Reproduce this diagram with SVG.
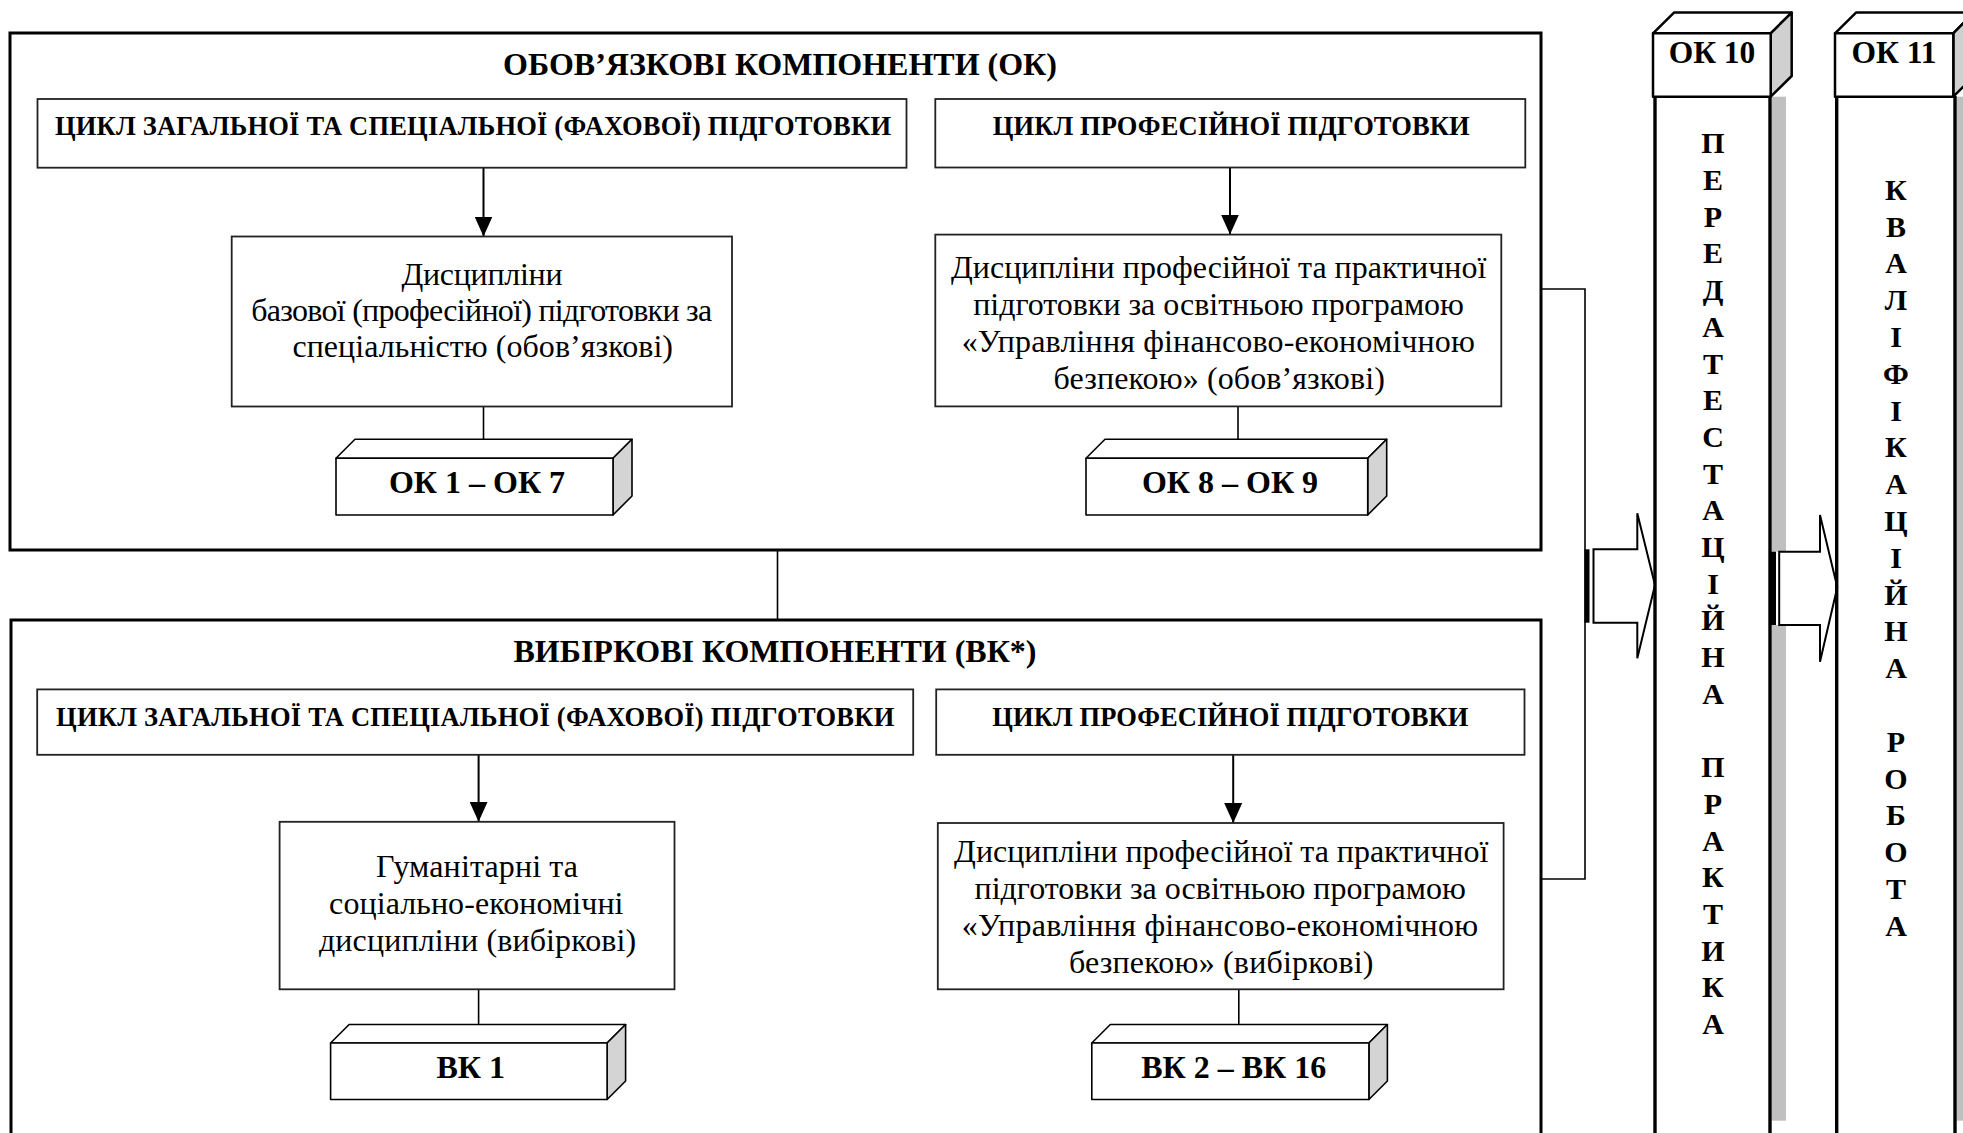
<svg xmlns="http://www.w3.org/2000/svg" width="1963" height="1133" viewBox="0 0 1963 1133">
<style>
text{font-family:"Liberation Serif","Times New Roman",serif;fill:#000}
.title{font-size:32px;font-weight:bold;text-anchor:middle}
.cyc{font-size:26.5px;font-weight:bold;text-anchor:middle}
.disc{font-size:32px;text-anchor:middle}
.lbl{font-size:32px;font-weight:bold;text-anchor:middle}
.hdr{font-size:31.5px;font-weight:bold;text-anchor:middle}
.let{font-size:30px;font-weight:bold;text-anchor:middle}
.outer{fill:none;stroke:#000;stroke-width:3}
.box{fill:#fff;stroke:#222;stroke-width:1.8}
.face{fill:#fff;stroke:#000;stroke-width:1.6;stroke-linejoin:round}
.side{fill:#d4d4d4;stroke:#000;stroke-width:1.6;stroke-linejoin:round}
.hface{fill:#fff;stroke:#000;stroke-width:2.5;stroke-linejoin:round}
.hside{fill:#d0d0d0;stroke:#000;stroke-width:2.5;stroke-linejoin:round}
.col{fill:none;stroke:#000;stroke-width:3.4}
.shadow{fill:#c0c0c0}
.ln{fill:none;stroke:#000;stroke-width:1.6}
.arr{fill:none;stroke:#000;stroke-width:2}
.barrow{fill:#fff;stroke:#000;stroke-width:2;stroke-linejoin:miter}
</style>
<defs>
<marker id="ah" viewBox="0 0 20 18" refX="20" refY="9" markerWidth="20" markerHeight="18" markerUnits="userSpaceOnUse" orient="auto">
<path d="M0,0 L20,9 L0,18 Z" fill="#000"/>
</marker>
</defs>
<rect width="1963" height="1133" fill="#fff"/>

<!-- shadows of vertical columns -->
<rect class="shadow" x="1771.7" y="96.7" width="14.3" height="1024"/>
<rect class="shadow" x="1956.5" y="96.7" width="14.3" height="1024"/>

<g id="connectors">
<line class="arr" x1="483.5" y1="168" x2="483.5" y2="236.5" marker-end="url(#ah)"/>
<line class="arr" x1="1230" y1="168" x2="1230" y2="234.6" marker-end="url(#ah)"/>
<line class="arr" x1="478.6" y1="755" x2="478.6" y2="821.8" marker-end="url(#ah)"/>
<line class="arr" x1="1233.2" y1="755" x2="1233.2" y2="823" marker-end="url(#ah)"/>
<line class="ln" x1="483.5" y1="406.5" x2="483.5" y2="439.3"/>
<line class="ln" x1="1238" y1="406.4" x2="1238" y2="439.3"/>
<line class="ln" x1="478.6" y1="989.3" x2="478.6" y2="1024.5"/>
<line class="ln" x1="1238.8" y1="989.3" x2="1238.8" y2="1024.5"/>
<line class="ln" x1="777.5" y1="550" x2="777.5" y2="620"/>
<polyline class="ln" points="1541,289 1585,289 1585,879 1541,879"/>
<!-- block arrow 1 -->
<path class="barrow" d="M1593.5,549.3 H1637.3 V513.3 L1655,585 L1637.3,658.3 V622.7 H1593.5 Z"/>
<rect x="1584.5" y="549.3" width="5" height="73.4" fill="#000"/>
<!-- block arrow 2 -->
<rect x="1772" y="551.7" width="14" height="73.3" fill="#fff"/>
<path class="barrow" d="M1779.2,551.7 H1820 V515 L1837.3,587.3 L1820,661.7 V625 H1779.2 Z"/>
<rect x="1771" y="551.7" width="5" height="73.3" fill="#000"/>
</g>

<g id="ok-block">
<rect class="outer" x="10" y="33" width="1531" height="517"/>
<text class="title" x="780" y="75">ОБОВ’ЯЗКОВІ КОМПОНЕНТИ (ОК)</text>
</g>
<g id="ok-cycle-general">
<rect class="box" x="37.5" y="99" width="869" height="68.7"/>
<text class="cyc" x="473" y="135" textLength="836">ЦИКЛ ЗАГАЛЬНОЇ ТА СПЕЦІАЛЬНОЇ (ФАХОВОЇ) ПІДГОТОВКИ</text>
</g>
<g id="ok-cycle-prof">
<rect class="box" x="935.3" y="99" width="590" height="68.5"/>
<text class="cyc" x="1231.2" y="135" textLength="477">ЦИКЛ ПРОФЕСІЙНОЇ ПІДГОТОВКИ</text>
</g>
<g id="ok-disc-base">
<rect class="box" x="231.7" y="236.5" width="500.3" height="170"/>
<text class="disc" x="482" y="285" textLength="161">Дисципліни</text>
<text class="disc" x="481.7" y="321" textLength="461">базової (професійної) підготовки за</text>
<text class="disc" x="482.7" y="357" textLength="380.6">спеціальністю (обов’язкові)</text>
</g>
<g id="ok-disc-prof">
<rect class="box" x="935.3" y="234.6" width="566" height="171.8"/>
<text class="disc" x="1218.7" y="278" textLength="535.4">Дисципліни професійної та практичної</text>
<text class="disc" x="1218.6" y="315" textLength="490.8">підготовки за освітньою програмою</text>
<text class="disc" x="1218.3" y="352" textLength="513.2">«Управління фінансово-економічною</text>
<text class="disc" x="1219.2" y="389" textLength="331.2">безпекою» (обов’язкові)</text>
</g>
<g id="ok-1-7">
<polygon class="face" points="336,458.3 355,439.3 632,439.3 613,458.3"/>
<polygon class="side" points="613,458.3 632,439.3 632,496 613,515"/>
<rect class="face" x="336" y="458.3" width="277" height="56.7"/>
<text class="lbl" x="477" y="493.3">ОК 1 – ОК 7</text>
</g>
<g id="ok-8-9">
<polygon class="face" points="1086,458.3 1105,439.3 1386.7,439.3 1367.7,458.3"/>
<polygon class="side" points="1367.7,458.3 1386.7,439.3 1386.7,496 1367.7,515"/>
<rect class="face" x="1086" y="458.3" width="281.7" height="56.7"/>
<text class="lbl" x="1230" y="493.3">ОК 8 – ОК 9</text>
</g>

<g id="vk-block">
<rect class="outer" x="11" y="620" width="1530" height="530"/>
<text class="title" x="775" y="662">ВИБІРКОВІ КОМПОНЕНТИ (ВК*)</text>
</g>
<g id="vk-cycle-general">
<rect class="box" x="37.2" y="689.4" width="876" height="65.4"/>
<text class="cyc" x="475.2" y="726" textLength="838.3">ЦИКЛ ЗАГАЛЬНОЇ ТА СПЕЦІАЛЬНОЇ (ФАХОВОЇ) ПІДГОТОВКИ</text>
</g>
<g id="vk-cycle-prof">
<rect class="box" x="936.2" y="689.4" width="588.3" height="65.4"/>
<text class="cyc" x="1230.4" y="726" textLength="476.1">ЦИКЛ ПРОФЕСІЙНОЇ ПІДГОТОВКИ</text>
</g>
<g id="vk-disc-hum">
<rect class="box" x="279.6" y="821.8" width="394.9" height="167.5"/>
<text class="disc" x="477" y="877" textLength="202">Гуманітарні та</text>
<text class="disc" x="476.3" y="914" textLength="294.4">соціально-економічні</text>
<text class="disc" x="477.6" y="951" textLength="317.3">дисципліни (вибіркові)</text>
</g>
<g id="vk-disc-prof">
<rect class="box" x="937.8" y="823" width="565.8" height="166.3"/>
<text class="disc" x="1221.2" y="862" textLength="534.2">Дисципліни професійної та практичної</text>
<text class="disc" x="1220.2" y="899" textLength="491.3">підготовки за освітньою програмою</text>
<text class="disc" x="1219.9" y="936" textLength="516.3">«Управління фінансово-економічною</text>
<text class="disc" x="1221.2" y="973" textLength="304.6">безпекою» (вибіркові)</text>
</g>
<g id="vk-1">
<polygon class="face" points="330.6,1043 349.1,1024.5 625.6,1024.5 607.1,1043"/>
<polygon class="side" points="607.1,1043 625.6,1024.5 625.6,1081 607.1,1099.5"/>
<rect class="face" x="330.6" y="1043" width="276.5" height="56.5"/>
<text class="lbl" x="470.7" y="1078">ВК 1</text>
</g>
<g id="vk-2-16">
<polygon class="face" points="1091.8,1043 1110.3,1024.5 1387.4,1024.5 1368.9,1043"/>
<polygon class="side" points="1368.9,1043 1387.4,1024.5 1387.4,1081 1368.9,1099.5"/>
<rect class="face" x="1091.8" y="1043" width="277.1" height="56.5"/>
<text class="lbl" x="1233.7" y="1078">ВК 2 – ВК 16</text>
</g>

<g id="ok10">
<line class="col" x1="1655" y1="96" x2="1655" y2="1140"/>
<line class="col" x1="1770" y1="96" x2="1770" y2="1140"/>
<polygon class="hface" points="1653,33.3 1674,12.6 1791.7,12.6 1770.7,33.3"/>
<polygon class="hside" points="1770.7,33.3 1791.7,12.6 1791.7,76 1770.7,96.7"/>
<rect class="hface" x="1653" y="33.3" width="117.7" height="63.4"/>
<text class="hdr" x="1712" y="63.3">ОК 10</text>
<text class="let" x="1713">
<tspan x="1713" y="153.3">П</tspan><tspan x="1713" y="190">Е</tspan><tspan x="1713" y="226.7">Р</tspan><tspan x="1713" y="263.4">Е</tspan><tspan x="1713" y="300.1">Д</tspan><tspan x="1713" y="336.8">А</tspan><tspan x="1713" y="373.5">Т</tspan><tspan x="1713" y="410.2">Е</tspan><tspan x="1713" y="446.9">С</tspan><tspan x="1713" y="483.6">Т</tspan><tspan x="1713" y="520.3">А</tspan><tspan x="1713" y="557">Ц</tspan><tspan x="1713" y="593.7">І</tspan><tspan x="1713" y="630.4">Й</tspan><tspan x="1713" y="667.1">Н</tspan><tspan x="1713" y="703.8">А</tspan><tspan x="1713" y="777.2">П</tspan><tspan x="1713" y="813.9">Р</tspan><tspan x="1713" y="850.6">А</tspan><tspan x="1713" y="887.3">К</tspan><tspan x="1713" y="924">Т</tspan><tspan x="1713" y="960.7">И</tspan><tspan x="1713" y="997.4">К</tspan><tspan x="1713" y="1034.1">А</tspan>
</text>
</g>

<g id="ok11">
<line class="col" x1="1836.7" y1="96" x2="1836.7" y2="1140"/>
<line class="col" x1="1955" y1="96" x2="1955" y2="1140"/>
<polygon class="hface" points="1835,33.3 1856,12.6 1974,12.6 1953.3,33.3"/>
<polygon class="hside" points="1953.3,33.3 1974,12.6 1974,76 1953.3,96.7"/>
<rect class="hface" x="1835" y="33.3" width="118.3" height="63.4"/>
<text class="hdr" x="1894" y="63.3">ОК 11</text>
<text class="let" x="1896">
<tspan x="1896" y="199.8">К</tspan><tspan x="1896" y="236.6">В</tspan><tspan x="1896" y="273.4">А</tspan><tspan x="1896" y="310.2">Л</tspan><tspan x="1896" y="347">І</tspan><tspan x="1896" y="383.8">Ф</tspan><tspan x="1896" y="420.6">І</tspan><tspan x="1896" y="457.4">К</tspan><tspan x="1896" y="494.2">А</tspan><tspan x="1896" y="531">Ц</tspan><tspan x="1896" y="567.8">І</tspan><tspan x="1896" y="604.6">Й</tspan><tspan x="1896" y="641.4">Н</tspan><tspan x="1896" y="678.2">А</tspan><tspan x="1896" y="751.8">Р</tspan><tspan x="1896" y="788.6">О</tspan><tspan x="1896" y="825.4">Б</tspan><tspan x="1896" y="862.2">О</tspan><tspan x="1896" y="899">Т</tspan><tspan x="1896" y="935.8">А</tspan>
</text>
</g>
</svg>
